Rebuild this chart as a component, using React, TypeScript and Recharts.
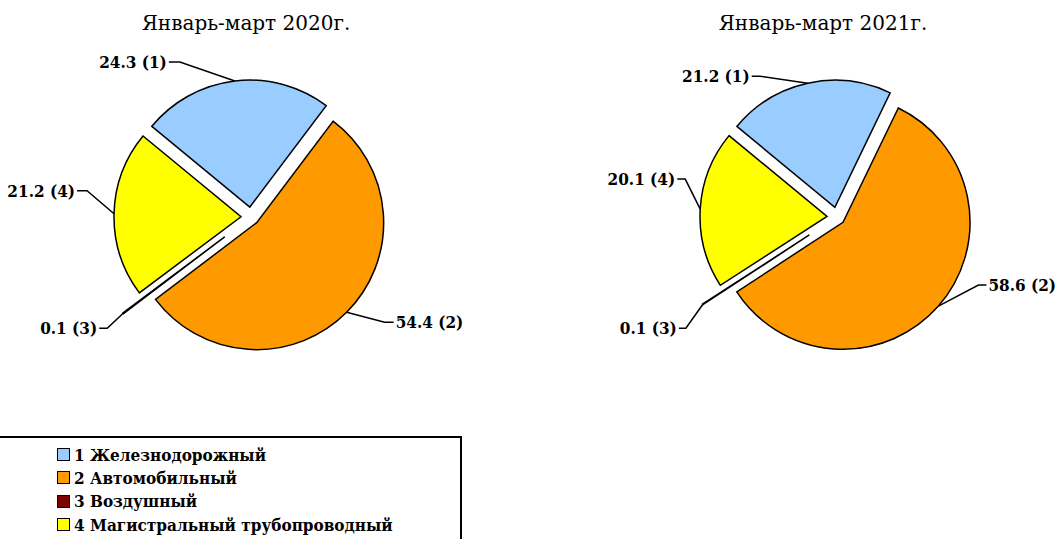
import { PieChart, Pie, Cell, Legend } from 'recharts';

const categories = ['Железнодорожный', 'Автомобильный', 'Воздушный', 'Магистральный трубопроводный'];
const periods = ['Январь-март 2020г.', 'Январь-март 2021г.'];
const shares2020 = [24.3, 54.4, 0.1, 21.2];
const shares2021 = [21.2, 58.6, 0.1, 20.1];

const COLORS = ['#99ccff', '#ff9900', '#800000', '#ffff00'];
const RADIAN = Math.PI / 180;
const START_ANGLE = 140.5;
const RADIUS = 127;
// how far each slice is pulled out of the pie
const EXPLODE = [10, 8, 33, 10];
// leader line: elbow offset from the arc point (dx, dy), then horizontal tail
const LEADERS_2020 = [[-55, -19, -11], [38, 10, 9], [-16, 15, -8], [-27, -23, -10]];
const LEADERS_2021 = [[-48, -7, -8], [40, -21, 8], [-17, 24, -7], [-15, -30, -8]];

const FONT = '"DejaVu Serif", serif';
const BOLD_FONT = '"DejaVu Serif Condensed", "DejaVu Serif", serif';

function sliceShift(values: number[], i: number) {
  const total = values.reduce((a, b) => a + b, 0);
  const before = values.slice(0, i).reduce((a, b) => a + b, 0);
  const mid = START_ANGLE - (360 * (before + values[i] / 2)) / total;
  const d = EXPLODE[i];
  return [d * Math.cos(mid * RADIAN), -d * Math.sin(mid * RADIAN)];
}

const makeLabel = (slice: number, leaders: number[][]) => (props: any) => {
  if (props.index !== slice) return null;
  const { cx, cy, midAngle, outerRadius, value } = props;
  const ax = cx + outerRadius * Math.cos(-midAngle * RADIAN);
  const ay = cy + outerRadius * Math.sin(-midAngle * RADIAN);
  const [ex, ey, tail] = leaders[slice];
  const bx = ax + ex;
  const by = ay + ey;
  const tx = bx + tail;
  const left = tail < 0;
  return (
    <g>
      <polyline
        points={`${ax},${ay} ${bx},${by} ${tx},${by}`}
        fill="none"
        stroke="#000"
        strokeWidth={1.5}
      />
      <text
        x={tx + (left ? -2 : 2)}
        y={by}
        textAnchor={left ? 'end' : 'start'}
        dominantBaseline="central"
        fontFamily={BOLD_FONT}
        fontWeight="bold"
        fontSize={17}
        style={{ fontStretch: 'condensed' }}
        fill="#000"
      >
        {`${Number(value).toFixed(1)} (${slice + 1})`}
      </text>
    </g>
  );
};

function explodedPie(values: number[], cx: number, cy: number, leaders: number[][], key: string) {
  const data = values.map((v, i) => ({ name: categories[i], value: v }));
  return values.map((_, slice) => {
    const [dx, dy] = sliceShift(values, slice);
    return (
      <Pie
        key={`${key}-${slice}`}
        data={data}
        dataKey="value"
        cx={cx + dx}
        cy={cy + dy}
        outerRadius={RADIUS}
        startAngle={START_ANGLE}
        endAngle={START_ANGLE - 360}
        stroke="#000"
        strokeWidth={1.5}
        label={makeLabel(slice, leaders)}
        labelLine={false}
        isAnimationActive={false}
        legendType="none"
      >
        {data.map((_, i) => (
          <Cell
            key={i}
            fill={i === slice ? COLORS[i] : 'none'}
            stroke={i === slice ? '#000' : 'none'}
          />
        ))}
      </Pie>
    );
  });
}

const renderLegend = () => (
  <div
    style={{
      border: '2px solid #000',
      boxSizing: 'border-box',
      height: 110,
      paddingTop: 5,
      paddingLeft: 59,
      fontFamily: BOLD_FONT,
      fontStretch: 'condensed',
      fontWeight: 'bold',
      fontSize: 17,
      color: '#000',
      background: '#fff',
    }}
  >
    {categories.map((c, i) => (
      <div key={c} style={{ display: 'flex', alignItems: 'center', height: 23.3 }}>
        <span
          style={{
            display: 'inline-block',
            width: 13,
            height: 13,
            boxSizing: 'border-box',
            background: COLORS[i],
            border: '1.5px solid #000',
            marginRight: 4,
          }}
        />
        <span>{`${i + 1} ${c}`}</span>
      </div>
    ))}
  </div>
);

export default function App() {
  return (
    <div
      style={{
        position: 'absolute',
        left: 0,
        top: 0,
        width: 1056,
        height: 539,
        overflow: 'hidden',
        background: '#fff',
      }}
    >
      {periods.map((p, i) => (
        <div
          key={p}
          style={{
            position: 'absolute',
            top: 13,
            left: i === 0 ? 246 - 150 : 823 - 150,
            width: 300,
            textAlign: 'center',
            fontFamily: FONT,
            fontSize: 20,
            lineHeight: '20px',
            color: '#000',
          }}
        >
          {p}
        </div>
      ))}
      <PieChart width={1056} height={539} margin={{ top: 0, right: 0, bottom: 0, left: 0 }}>
        {explodedPie(shares2020, 251, 217, LEADERS_2020, 'y2020')}
        {explodedPie(shares2021, 837, 217, LEADERS_2021, 'y2021')}
        <Legend
          content={renderLegend}
          wrapperStyle={{ left: -4, top: 436, width: 466, bottom: 'auto' }}
        />
      </PieChart>
    </div>
  );
}
